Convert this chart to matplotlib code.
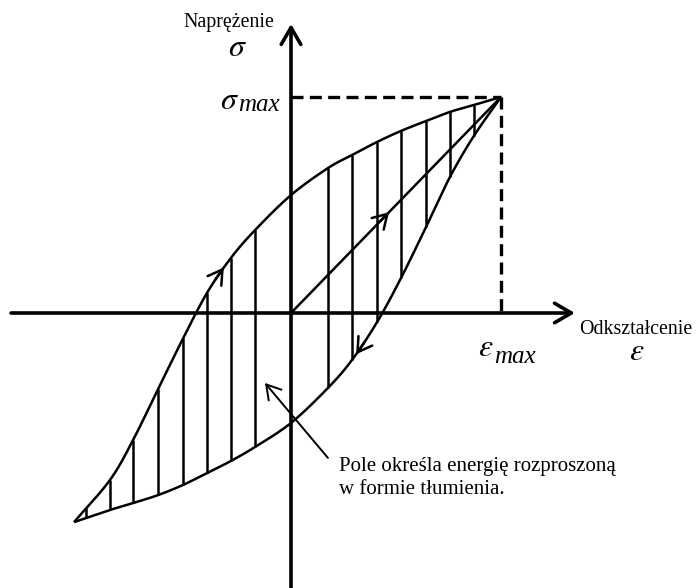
import numpy as np
import matplotlib.pyplot as plt

plt.rcParams['font.family'] = ['Liberation Serif', 'DejaVu Serif']
plt.rcParams['mathtext.fontset'] = 'stix'

# Hysteresis loop, strain and stress normalised by eps_max / sigma_max
upper_eps = [-1.033, -0.862, -0.752, -0.633, -0.514, -0.400, -0.286, -0.171,
             0.0, 0.176, 0.290, 0.410, 0.524, 0.643, 0.757, 0.871, 1.0]
upper_sig = [-0.968, -0.773, -0.588, -0.352, -0.118, 0.093, 0.255, 0.384,
             0.546, 0.671, 0.731, 0.792, 0.843, 0.889, 0.931, 0.963, 1.0]

lower_eps = [-1.033, -0.862, -0.752, -0.633, -0.514, -0.400, -0.286, -0.171, 0.0,
             0.176, 0.290, 0.410, 0.524, 0.643, 0.757, 0.871, 1.0]
lower_sig = [-0.968, -0.912, -0.880, -0.843, -0.796, -0.741, -0.685, -0.620, -0.509,
             -0.347, -0.218, -0.042, 0.162, 0.398, 0.630, 0.820, 1.0]

# linear loading path from the origin to (eps_max, sigma_max)
diag_eps = [0.0, 1.0]
diag_sig = [0.0, 1.0]

# vertical hatching inside the loop
hatch_eps = [-0.976, -0.862, -0.752, -0.633, -0.514, -0.400, -0.286, -0.171,
             0.176, 0.290, 0.410, 0.524, 0.643, 0.757, 0.871]

# where the direction arrows sit on each path
upper_arrow_eps = -0.32
lower_arrow_eps = 0.31
diag_arrow_eps = 0.467

W, H = 699, 588
X0, Y0, SX, SY = 291, 313, 210, 216   # origin and unit lengths in pixels


def smooth(xs, ys, n=16):
    """Catmull-Rom curve through the given points."""
    p = np.column_stack([xs, ys])
    p = np.vstack([2 * p[0] - p[1], p, 2 * p[-1] - p[-2]])
    t = np.linspace(0, 1, n, endpoint=False)[:, None]
    out = []
    for i in range(1, len(p) - 2):
        p0, p1, p2, p3 = p[i - 1], p[i], p[i + 1], p[i + 2]
        out.append(0.5 * (2 * p1 + (p2 - p0) * t + (2 * p0 - 5 * p1 + 4 * p2 - p3) * t ** 2
                          + (3 * p1 - p0 - 3 * p2 + p3) * t ** 3))
    out.append(p[-2][None])
    c = np.vstack(out)
    return c[:, 0], c[:, 1]


fig = plt.figure(figsize=(W / 100, H / 100), dpi=100)
ax = fig.add_axes([0, 0, 1, 1])
ax.set_xlim(-X0 / SX, (W - X0) / SX)
ax.set_ylim((Y0 - H) / SY, Y0 / SY)
ax.axis('off')

LW = 1.8
k = dict(color='black', lw=LW, solid_capstyle='butt', solid_joinstyle='round')

# coordinate axes with open arrowheads
axis_arrow = dict(arrowstyle='->,head_length=0.55,head_width=0.32', lw=2.6,
                  color='black', mutation_scale=22, shrinkA=0, shrinkB=0)
ax.annotate('', xy=(1.352, 0), xytext=(-1.333, 0), arrowprops=axis_arrow)
ax.annotate('', xy=(0, 1.338), xytext=(0, (Y0 - H) / SY), arrowprops=axis_arrow)

# dashed guides to the peak
ax.plot([0, 1], [1, 1], color='black', lw=2.4, ls=(0, (3.6, 1.9)))
ax.plot([1, 1], [1, 0], color='black', lw=2.4, ls=(0, (3.6, 1.9)))

ue, us = smooth(upper_eps, upper_sig)
le, ls_ = smooth(lower_eps, lower_sig)
ax.plot(ue, us, **k)
ax.plot(le, ls_, **k)
ax.plot(diag_eps, diag_sig, **k)

for e in hatch_eps:
    top = np.interp(e, ue, us)
    bot = np.interp(e, le, ls_)
    ax.plot([e, e], [bot, top], **k)


def path_arrow(eps, sig, at, back):
    head = (at, np.interp(at, eps, sig))
    tail = (at - back, np.interp(at - back, eps, sig))
    ax.annotate('', xy=head, xytext=tail,
                arrowprops=dict(arrowstyle='->,head_length=0.5,head_width=0.3', lw=LW,
                                color='black', mutation_scale=20, shrinkA=0, shrinkB=0))


path_arrow(ue, us, upper_arrow_eps, 0.04)
path_arrow(le, ls_, lower_arrow_eps, -0.04)
path_arrow(diag_eps, diag_sig, diag_arrow_eps, 0.04)

# labels
ax.text(-0.295, 1.343, 'Naprężenie', fontsize=14.3, ha='center', va='center')
ax.text(-0.255, 1.225, r'$\sigma$', fontsize=23, ha='center', va='center')
ax.text(-0.25, 0.98, r'$\sigma$', fontsize=23, ha='right', va='center')
ax.text(-0.25, 0.935, 'max', fontsize=18, style='italic', ha='left', va='baseline')

ax.text(1.643, -0.075, 'Odkształcenie', fontsize=14.3, ha='center', va='center')
ax.text(1.648, -0.185, r'$\varepsilon$', fontsize=23, ha='center', va='center')
ax.text(0.965, -0.165, r'$\varepsilon$', fontsize=23, ha='right', va='center')
ax.text(0.965, -0.232, 'max', fontsize=18, style='italic', ha='left', va='baseline')

ax.annotate('', xy=(-0.124, -0.324), xytext=(0.176, -0.671),
            arrowprops=dict(arrowstyle='->,head_length=0.5,head_width=0.3', lw=1.4,
                            color='black', mutation_scale=20, shrinkA=0, shrinkB=0))
ax.text(0.229, -0.73, 'Pole określa energię rozproszoną', fontsize=15,
        ha='left', va='baseline')
ax.text(0.229, -0.84, 'w formie tłumienia.', fontsize=15, ha='left', va='baseline')

fig.savefig('out.png', dpi=100)
